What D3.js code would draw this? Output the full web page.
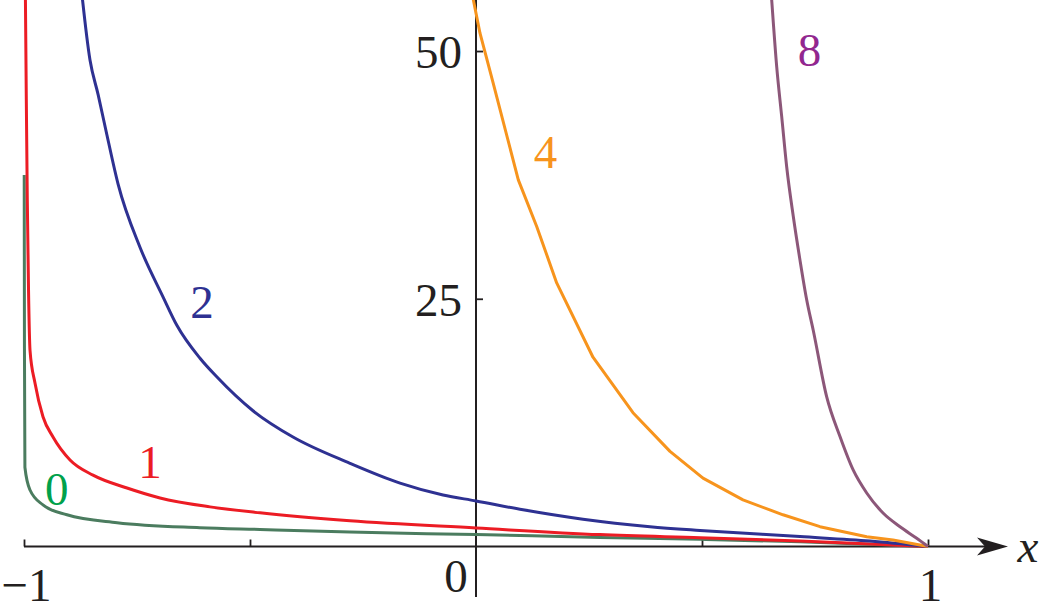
<!DOCTYPE html>
<html><head><meta charset="utf-8">
<script src="https://cdn.jsdelivr.net/npm/d3@7"></script>
</head>
<body style="margin:0">
<svg id="chart" width="1040" height="605" style="display:block;background:#fff"></svg>
<script>
// ---- data ----
const seriesNames = ["0","1","2","4","8"];
const curve0 = [[-0.9995,37.5],[-0.999,20],[-0.998,8.0],[-0.9867,5.7],[-0.958,4.2],[-0.905,3.2],[-0.794,2.4],[-0.611,1.9],[-0.478,1.72],[-0.279,1.46],[0,1.2],[0.274,0.92],[0.496,0.72],[0.717,0.48],[1,0]];
const curve1 = [[-0.9972,57],[-0.9949,45.1],[-0.9927,35.0],[-0.990,25.9],[-0.9867,19.8],[-0.9757,16.5],[-0.958,13.1],[-0.9358,11.05],[-0.8982,8.73],[-0.8473,7.2],[-0.7721,5.9],[-0.6991,4.9],[-0.5885,4.0],[-0.4779,3.4],[-0.2788,2.6],[0,1.87],[0.2743,1.2],[0.4956,0.88],[0.7168,0.55],[1,0]];
const curve2 = [[-0.876,57.5],[-0.854,49.1],[-0.836,45.6],[-0.8164,41.5],[-0.792,36.6],[-0.7434,30.2],[-0.6925,25.2],[-0.6615,22.3],[-0.6106,19.0],[-0.573,17.1],[-0.4934,13.7],[-0.4049,11.05],[-0.2788,8.4],[-0.1681,6.4],[-0.073,5.2],[0,4.6],[0.104,3.7],[0.2367,2.75],[0.385,2.0],[0.4956,1.62],[0.7168,1.0],[0.8717,0.55],[1,0]];
const curve4 = [[-0.0104,56.2],[0.00885,51.8],[0.0383,46.7],[0.0936,37.0],[0.1343,32.3],[0.1785,26.6],[0.2588,19.1],[0.3473,13.5],[0.4292,9.6],[0.5022,6.9],[0.5907,4.7],[0.6792,3.2],[0.7611,2.0],[0.8644,0.99],[0.9226,0.66],[1,0]];
const curve8 = [[0.651,57.2],[0.6542,55.15],[0.6653,48.4],[0.6763,43.4],[0.6874,38.3],[0.702,33.3],[0.7168,28.9],[0.7316,24.9],[0.7462,21.8],[0.7759,15.1],[0.8053,11.1],[0.8347,7.7],[0.8644,5.4],[0.9011,3.35],[0.9381,1.99],[0.975,0.83],[1,0]];
const xTicks = [-1,-0.5,0.5,1];
const xTickLabels = [{v:-1,t:"\u22121"},{v:0,t:"0"},{v:1,t:"1"}];
const yTicks = [25,50];
const yTickLabels = ["25","50"];
// label anchor points in data units
const labelPos = [[-0.9277,4.19],[-0.7212,6.91],[-0.6062,23.06],[0.1538,38.2],[0.7378,48.5]];

// ---- drawing ----
const FONT = '"Liberation Serif"';
const svg = d3.select("#chart");
const x = d3.scaleLinear().domain([-1,1]).range([24,928]);
const y = d3.scaleLinear().domain([0,55.15]).range([546.5,0]);

const lineColors = ["#4b7c5f","#ec1c24","#2e3192","#f7941d","#8c5779"];
const labelColors = ["#00a14b","#ec1c24","#2e3192","#f7941d","#92278f"];
const curveTypes = [d3.curveMonotoneX,d3.curveMonotoneX,d3.curveMonotoneX,d3.curveLinear,d3.curveMonotoneX];
const allCurves = [curve0,curve1,curve2,curve4,curve8];

svg.append("defs").append("clipPath").attr("id","plotClip")
  .append("rect").attr("x",0).attr("y",y(55.15)).attr("width",1040).attr("height",y(0)-y(55.15)+2);

// axes
const axisG = svg.append("g");
axisG.append("line").attr("x1",x(-1)).attr("x2",998).attr("y1",y(0)).attr("y2",y(0))
  .attr("stroke","#231f20").attr("stroke-width",2);
const ay = y(0);
axisG.append("path").attr("d",`M1008,${ay} L977,${ay-9} L985,${ay} L977,${ay+9} Z`).attr("fill","#231f20");
axisG.append("line").attr("x1",x(0)).attr("x2",x(0)).attr("y1",0).attr("y2",597)
  .attr("stroke","#231f20").attr("stroke-width",2);

const xAxis = d3.axisTop(x).tickValues(xTicks).tickSize(7).tickSizeOuter(0).tickFormat("");
const gx = svg.append("g").attr("transform",`translate(0,${y(0)})`).call(xAxis);
gx.select(".domain").remove();
gx.selectAll(".tick line").attr("stroke","#231f20").attr("stroke-width",1.8);

const yAxis = d3.axisRight(y).tickValues(yTicks).tickSize(7).tickSizeOuter(0).tickFormat("");
const gy = svg.append("g").attr("transform",`translate(${x(0)},0)`).call(yAxis);
gy.select(".domain").remove();
gy.selectAll(".tick line").attr("stroke","#231f20").attr("stroke-width",1.8);

// curves
const plot = svg.append("g").attr("clip-path","url(#plotClip)");
allCurves.forEach((c,i)=>{
  plot.append("path").datum(c)
    .attr("d",d3.line().x(d=>x(d[0])).y(d=>y(d[1])).curve(curveTypes[i]))
    .attr("fill","none").attr("stroke",lineColors[i]).attr("stroke-width",3)
    .attr("stroke-linejoin","round");
});

// tick labels
xTickLabels.forEach(d=>{
  svg.append("text")
    .attr("x", d.v===0 ? x(0)-20 : x(d.v)+2.5)
    .attr("y", d.v===0 ? 592 : 601)
    .attr("text-anchor","middle").attr("font-size",47).attr("fill","#231f20")
    .style("font-family",FONT).text(d.t);
});
yTicks.forEach((v,i)=>{
  svg.append("text").attr("x",x(0)-14).attr("y",y(v)+17)
    .attr("text-anchor","end").attr("font-size",47).attr("fill","#231f20")
    .style("font-family",FONT).text(yTickLabels[i]);
});
svg.append("text").attr("x",1028).attr("y",562).attr("text-anchor","middle")
  .attr("font-size",47).attr("fill","#231f20")
  .style("font-family",FONT).style("font-style","italic").text("x");

// series labels
seriesNames.forEach((s,i)=>{
  svg.append("text").attr("x",x(labelPos[i][0])).attr("y",y(labelPos[i][1]))
    .attr("text-anchor","middle").attr("font-size",47).attr("fill",labelColors[i])
    .style("font-family",FONT).text(s);
});
</script>
</body></html>
